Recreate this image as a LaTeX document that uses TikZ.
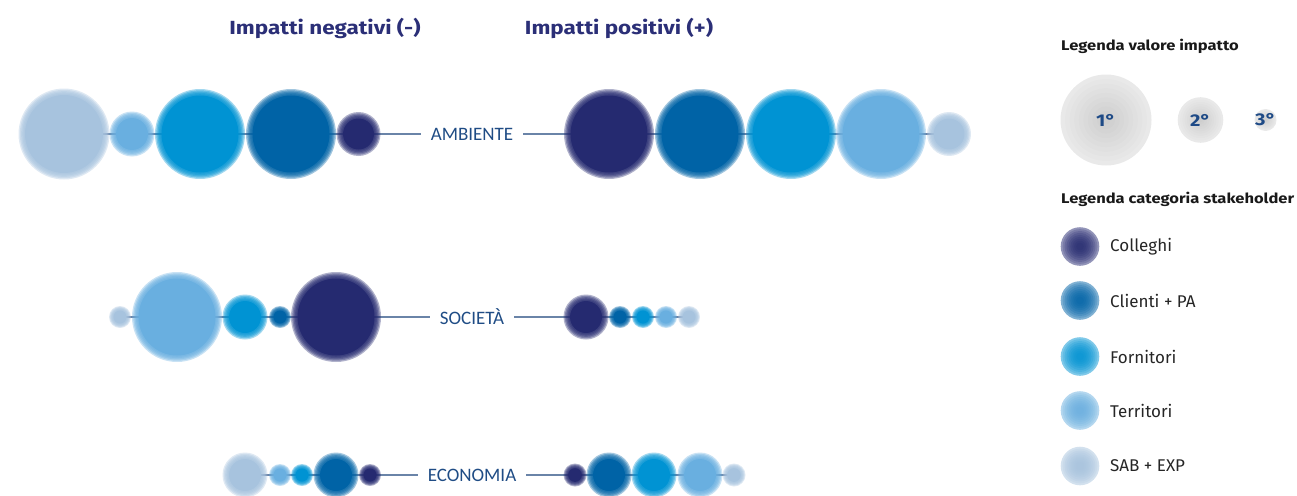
\documentclass[tikz,border=0pt]{standalone}
\usepackage{fontspec}
\setmainfont{Fira Sans}
\newfontfamily\bfont[FakeStretch=1.18]{Fira Sans}
\newfontfamily\labfont{Carlito}
\pgfdeclarelayer{bg}
\pgfsetlayers{bg,main}
\definecolor{coll}{HTML}{252A70}
\definecolor{cli}{HTML}{0063A6}
\definecolor{forn}{HTML}{0093D3}
\definecolor{terr}{HTML}{69AFE0}
\definecolor{sab}{HTML}{A7C3DE}
\definecolor{titlec}{HTML}{2B2F77}
\definecolor{labc}{HTML}{1F4C85}
\definecolor{linec}{HTML}{6A84A8}
\definecolor{numc}{HTML}{1E4A86}
\definecolor{gbase}{HTML}{E9E9E9}
\newcommand\bub[5]{%
  \pgfmathsetmacro\ringw{min(6.5,0.4*#4)}%
  \foreach \k in {0,1,2,3,4}{\fill[#5,fill opacity=0.36] (#2,#3) circle[radius={((#4)-\ringw*\k/5)*1pt}];}
  \fill[#5] (#2,#3) circle[radius={((#4)-\ringw)*1pt}];
  \coordinate (#1) at (#2,#3);}
\newcommand\lbub[5]{%
  \fill[#5!50!white] (#2,#3) circle[radius={(#4)*1pt}];
  \foreach \k in {1,...,8}{\fill[#5,fill opacity=0.22] (#2,#3) circle[radius={(#4)*(1-0.1*\k)*1pt}];}
  \coordinate (#1) at (#2,#3);}
\newcommand\gbub[4]{%
  \fill[gbase] (#2,#3) circle[radius={(#4)*1pt}];
  \foreach \k in {1,...,9}{\fill[black,fill opacity=0.012] (#2,#3) circle[radius={(#4)*(1-0.1*\k)*1pt}];}
  \coordinate (#1) at (#2,#3);}
\begin{document}
\begin{tikzpicture}[x=1pt,y=-1pt,
  ttl/.style={font=\bfont\fontsize{19}{20}\selectfont\bfseries,text=titlec,inner sep=0pt},
  rowlab/.style={font=\labfont\fontsize{19}{19}\selectfont,text=labc,inner xsep=10pt,inner ysep=2pt},
  rowline/.style={draw=linec,line width=1.6pt},
  lgt/.style={font=\bfont\fontsize{14}{16}\selectfont\bfseries,text=black!90,inner sep=0pt,anchor=west},
  lgl/.style={font=\fontsize{17}{18}\selectfont,text=black!85,inner sep=0pt,anchor=west},
  num/.style={font=\bfont\fontsize{17}{18}\selectfont\bfseries,text=numc,inner sep=0pt}]
\useasboundingbox (0,0) rectangle (1297,495);
\clip (0,0) rectangle (1297,495);
% titles
\node[ttl] (tneg) at (325,28) {Impatti negativi (-)};
\node[ttl] (tpos) at (619,28) {Impatti positivi (+)};
% row labels
\node[rowlab] (amb) at (472,134) {AMBIENTE};
\node[rowlab] (soc) at (472,317) {SOCIETÀ};
\node[rowlab] (eco) at (472,475) {ECONOMIA};
% AMBIENTE
\bub{a1}{64}{134}{45.5}{sab}
\bub{a2}{132}{134}{22.5}{terr}
\bub{a3}{200}{134}{45}{forn}
\bub{a4}{291}{134}{45}{cli}
\bub{a5}{358.5}{134}{22}{coll}
\bub{b1}{609}{134}{45}{coll}
\bub{b2}{700}{134}{45}{cli}
\bub{b3}{791}{134}{45}{forn}
\bub{b4}{881}{134}{45}{terr}
\bub{b5}{949}{134}{22}{sab}
% SOCIETA
\bub{s1}{120}{317}{11}{sab}
\bub{s2}{177}{317}{45}{terr}
\bub{s3}{245}{317}{22.5}{forn}
\bub{s4}{280}{317}{11}{cli}
\bub{s5}{336}{317}{45}{coll}
\bub{t1}{586}{317}{22.5}{coll}
\bub{t2}{620}{317}{11}{cli}
\bub{t3}{643}{317}{11}{forn}
\bub{t4}{666}{317}{11}{terr}
\bub{t5}{689}{317}{11}{sab}
% ECONOMIA
\bub{e1}{245}{475}{22.5}{sab}
\bub{e2}{280}{475}{11}{terr}
\bub{e3}{302}{475}{11}{forn}
\bub{e4}{336}{475}{22.5}{cli}
\bub{e5}{370}{475}{11}{coll}
\bub{f1}{575}{475}{11.5}{coll}
\bub{f2}{609}{475}{22.5}{cli}
\bub{f3}{654}{475}{22.5}{forn}
\bub{f4}{700}{475}{22.5}{terr}
\bub{f5}{734}{475}{11.5}{sab}
\begin{pgfonlayer}{bg}
\draw[rowline] (a1) -- (amb);
\draw[rowline] (amb) -- (b5);
\draw[rowline] (s1) -- (soc);
\draw[rowline] (soc) -- (t5);
\draw[rowline] (e1) -- (eco);
\draw[rowline] (eco) -- (f5);
\end{pgfonlayer}
% legend value
\node[lgt] (lv) at (1061,46) {Legenda valore impatto};
\gbub{g1}{1106}{120}{45.5}
\gbub{g2}{1200.5}{120}{22.8}
\gbub{g3}{1265.5}{120}{11}
\node[num] (n1) at (g1) {1°};
\node[num] (n2) at (g2) {2°};
\node[num] (n3) at (g3) {3°};
% legend category
\node[lgt] (lc) at (1061,199) {Legenda categoria stakeholder};
\lbub{l1}{1080}{246.5}{19.3}{coll}
\lbub{l2}{1080}{300.5}{19.3}{cli}
\lbub{l3}{1080}{356.5}{19.3}{forn}
\lbub{l4}{1080}{410.5}{19.3}{terr}
\lbub{l5}{1080}{466}{19.3}{sab}
\node[lgl] (k1) at (1110,246.5) {Colleghi};
\node[lgl] (k2) at (1110,300.5) {Clienti + PA};
\node[lgl] (k3) at (1110,356.5) {Fornitori};
\node[lgl] (k4) at (1110,410.5) {Territori};
\node[lgl] (k5) at (1110,466) {SAB + EXP};
\end{tikzpicture}
\end{document}
